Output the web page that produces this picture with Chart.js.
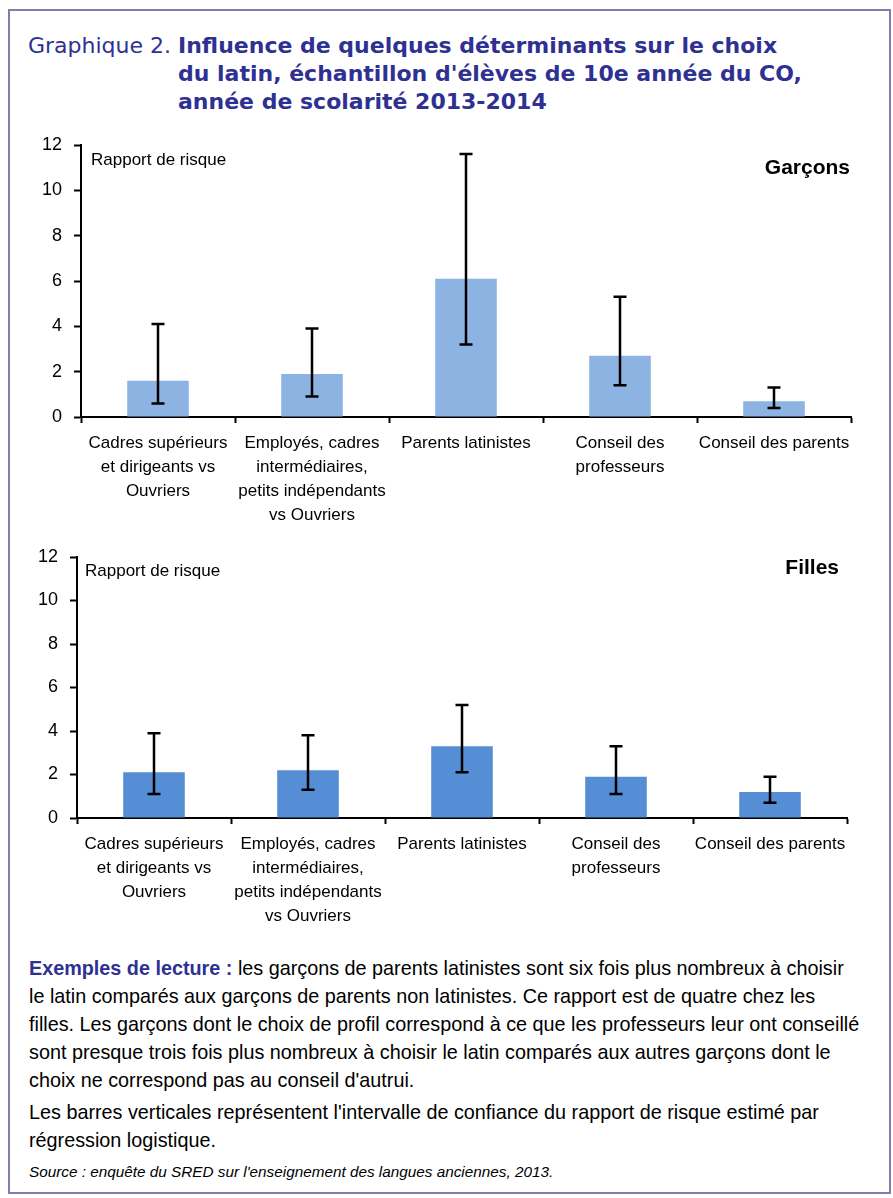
<!DOCTYPE html>
<html>
<head>
<meta charset="utf-8">
<script src="https://cdn.jsdelivr.net/npm/chart.js@4.4.1/dist/chart.umd.min.js"></script>
<style>
    body { margin: 0; background: #fff; }
    #page { position: relative; width: 893px; height: 1198px; overflow: hidden; }
    #frame { position: absolute; left: 8px; top: 9px; width: 879px; height: 1181px; border: 2px solid #7f7fae; }
    .title { position: absolute; color: #2e3192; font-size: 22px; line-height: 28px; white-space: nowrap; }
    #titleLabel { left: 28px; top: 32px; font-family: "DejaVu Sans", sans-serif; }
    #titleText { left: 178px; top: 32px; font-family: "DejaVu Sans", sans-serif; font-weight: bold; }
    .box { position: absolute; left: 0; width: 893px; }
    #notes { position: absolute; left: 29px; top: 954px; font-family: "Liberation Sans", Arial, sans-serif; font-size: 19.8px; line-height: 28px; color: #000; white-space: nowrap; }
    #notes p { margin: 0 0 4px 0; }
    #notes b { color: #2e3192; }
    #notes .src { font-style: italic; font-size: 15.3px; margin-top: 3px; }
</style>
</head>
<body>
<div id="page">
    <div id="frame"></div>
    <div class="title" id="titleLabel">Graphique 2.</div>
    <div class="title" id="titleText">Influence de quelques déterminants sur le choix<br>du latin, échantillon d'élèves de 10e année du CO,<br>année de scolarité 2013-2014</div>
    <div class="box" style="top:130px;height:410px;"><canvas id="chartGarcons"></canvas></div>
    <div class="box" style="top:540px;height:400px;"><canvas id="chartFilles"></canvas></div>
    <div id="notes">
        <p><b>Exemples de lecture :</b> les garçons de parents latinistes sont six fois plus nombreux à choisir<br>le latin comparés aux garçons de parents non latinistes. Ce rapport est de quatre chez les<br>filles. Les garçons dont le choix de profil correspond à ce que les professeurs leur ont conseillé<br>sont presque trois fois plus nombreux à choisir le latin comparés aux autres garçons dont le<br>choix ne correspond pas au conseil d'autrui.</p>
        <p>Les barres verticales représentent l'intervalle de confiance du rapport de risque estimé par<br>régression logistique.</p>
        <p class="src">Source : enquête du SRED sur l'enseignement des langues anciennes, 2013.</p>
    </div>
</div>
<script>
const categories = [
    ["Cadres supérieurs", "et dirigeants vs", "Ouvriers"],
    ["Employés, cadres", "intermédiaires,", "petits indépendants", "vs Ouvriers"],
    "Parents latinistes",
    ["Conseil des", "professeurs"],
    "Conseil des parents"
];

const garconsValues = [1.6, 1.9, 6.1, 2.7, 0.7];
const garconsLow = [0.6, 0.9, 3.2, 1.4, 0.4];
const garconsHigh = [4.1, 3.9, 11.6, 5.3, 1.3];

const fillesValues = [2.1, 2.2, 3.3, 1.9, 1.2];
const fillesLow = [1.1, 1.3, 2.1, 1.1, 0.7];
const fillesHigh = [3.9, 3.8, 5.2, 3.3, 1.9];

const yMin = 0;
const yMax = 12;
const yStep = 2;

const FONT = '"Liberation Sans", Arial, sans-serif';

// draws the confidence interval whiskers on top of the bars
const errorBarsPlugin = {
    id: 'errorBars',
    afterDatasetsDraw(chart) {
        const ctx = chart.ctx;
        const y = chart.scales.y;
        chart.data.datasets.forEach((ds, di) => {
            const meta = chart.getDatasetMeta(di);
            meta.data.forEach((bar, i) => {
                const top = y.getPixelForValue(ds.errHigh[i]);
                const bottom = y.getPixelForValue(ds.errLow[i]);
                ctx.save();
                ctx.strokeStyle = '#000';
                ctx.lineWidth = 2.5;
                ctx.beginPath();
                ctx.moveTo(bar.x, top);
                ctx.lineTo(bar.x, bottom);
                ctx.moveTo(bar.x - 6.5, top);
                ctx.lineTo(bar.x + 6.5, top);
                ctx.moveTo(bar.x - 6.5, bottom);
                ctx.lineTo(bar.x + 6.5, bottom);
                ctx.stroke();
                ctx.restore();
            });
        });
    }
};

// axis caption and group name inside the plot area
const labelsPlugin = {
    id: 'panelLabels',
    afterDraw(chart, args, opts) {
        const ctx = chart.ctx;
        const area = chart.chartArea;
        ctx.save();
        ctx.fillStyle = '#000';
        ctx.textBaseline = 'alphabetic';
        ctx.font = '17px ' + FONT;
        ctx.textAlign = 'left';
        ctx.fillText('Rapport de risque', area.left + opts.captionDx, area.top + opts.captionDy);
        ctx.font = 'bold 21px ' + FONT;
        ctx.textAlign = 'right';
        ctx.fillText(opts.group, area.right - opts.groupDx, area.top + opts.groupDy);
        ctx.restore();
    }
};

function makeChart(canvasId, values, low, high, color, pad, sizes) {
    const ctx = document.getElementById(canvasId).getContext('2d');
    return new Chart(ctx, {
        type: 'bar',
        data: {
            labels: categories,
            datasets: [{
                data: values,
                errLow: low,
                errHigh: high,
                backgroundColor: color,
                borderWidth: 0,
                barPercentage: 0.4,
                categoryPercentage: 1
            }]
        },
        options: {
            responsive: true,
            maintainAspectRatio: false,
            animation: false,
            layout: { padding: pad },
            plugins: {
                legend: { display: false },
                tooltip: { enabled: false },
                panelLabels: sizes.labels
            },
            scales: {
                x: {
                    grid: { drawOnChartArea: false, tickLength: 6, tickWidth: 2, tickColor: '#000' },
                    border: { color: '#000', width: 2 },
                    ticks: {
                        color: '#000',
                        padding: 8,
                        maxRotation: 0,
                        autoSkip: false,
                        font: { family: FONT, size: 17, lineHeight: 1.41 }
                    },
                    afterFit(scale) {
                        scale.height = sizes.xHeight;
                        scale.paddingLeft = 0;
                        scale.paddingRight = 0;
                    }
                },
                y: {
                    min: yMin,
                    max: yMax,
                    grid: { drawOnChartArea: false, tickLength: 7, tickWidth: 2, tickColor: '#000' },
                    border: { color: '#000', width: 2 },
                    ticks: {
                        stepSize: yStep,
                        color: '#000',
                        padding: 12,
                        font: { family: FONT, size: 18 }
                    },
                    afterFit(scale) {
                        scale.width = sizes.yWidth;
                        scale.paddingTop = 0;
                        scale.paddingBottom = 0;
                    }
                }
            }
        },
        plugins: [errorBarsPlugin, labelsPlugin]
    });
}

makeChart('chartGarcons', garconsValues, garconsLow, garconsHigh, '#8db3e2',
    { left: 0, right: 42, top: 15, bottom: 0 },
    { xHeight: 123, yWidth: 81, labels: { group: 'Garçons', captionDx: 10, captionDy: 20, groupDx: 1, groupDy: 29 } });

makeChart('chartFilles', fillesValues, fillesLow, fillesHigh, '#558ed5',
    { left: 0, right: 46, top: 17, bottom: 0 },
    { xHeight: 122, yWidth: 77, labels: { group: 'Filles', captionDx: 8, captionDy: 19, groupDx: 8, groupDy: 17 } });
</script>
</body>
</html>
